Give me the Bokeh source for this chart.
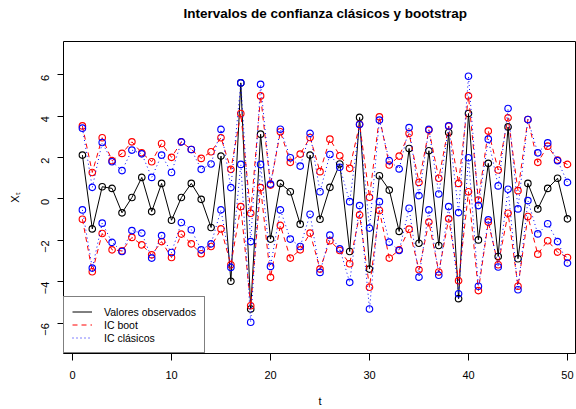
import math
from bokeh.plotting import figure
from bokeh.models import Legend, LegendItem, FixedTicker, Title
from bokeh.embed import file_html
from bokeh.resources import INLINE

t = list(range(1, 51))

obs = [2.12, -1.45, 0.59, 0.51, -0.67, 0.07, 1.04, -0.61, 0.75, -1.03,
       0.07, 0.75, -0.02, -1.38, 2.07, -3.98, 5.61, -5.32, 3.13, -1.94,
       0.75, 0.35, -1.22, 2.12, -0.98, 0.56, 1.69, -2.54, 3.94, -3.39,
       1.12, 0.43, -1.57, 2.44, -2.14, 2.33, -2.25, 3.21, -4.82, 4.13,
       -1.98, 1.72, -2.78, 3.48, -2.89, 0.75, -0.48, 0.51, 1.00, -0.96]

boot_up = [3.53, 1.28, 2.96, 1.85, 2.20, 2.76, 2.23, 1.80, 2.68, 2.01,
           2.76, 2.39, 1.96, 2.28, 2.96, 1.43, 4.13, -0.69, 4.98, 0.67,
           3.25, 1.77, 2.17, 2.97, 1.32, 2.89, 2.09, 1.48, 3.61, 0.08,
           3.97, 1.64, 2.07, 3.17, 0.80, 3.33, 1.00, 3.52, 0.75, 4.98,
           -0.05, 3.28, 1.40, 3.92, 0.40, 3.84, 1.77, 2.55, 1.88, 1.67]

boot_lo = [-0.98, -3.52, -1.67, -2.46, -2.51, -1.86, -2.22, -2.70, -2.06, -2.83,
           -1.70, -2.17, -2.65, -2.30, -1.45, -3.18, -0.37, -5.16, 0.55, -3.79,
           -1.28, -2.86, -2.46, -1.65, -3.39, -2.02, -2.49, -3.13, -0.77, -4.27,
           -0.56, -2.86, -2.46, -1.46, -3.42, -1.12, -3.53, -0.96, -3.95, 0.35,
           -4.43, -1.12, -3.18, -0.69, -4.22, -0.85, -2.67, -2.02, -2.57, -2.83]

clas_up = [3.42, 0.56, 2.73, 1.80, 1.37, 2.36, 2.18, 1.04, 2.12, 1.28,
           2.76, 2.39, 1.43, 1.69, 3.36, 0.55, 5.61, -2.06, 5.54, 0.72,
           3.37, 1.99, 1.59, 3.17, 0.35, 2.15, 1.53, -0.13, 3.60, -1.41,
           3.81, 1.85, 1.45, 3.45, 0.16, 3.36, 0.24, 3.53, -0.66, 5.93,
           -0.32, 2.89, 0.63, 4.37, -0.48, 3.84, 2.23, 2.71, 1.85, 0.80]

clas_lo = [-0.53, -3.34, -1.17, -2.10, -2.54, -1.53, -1.65, -2.86, -1.77, -2.59,
           -1.14, -1.49, -2.46, -2.17, -0.53, -3.31, 1.67, -5.96, 1.67, -3.26,
           -0.53, -1.94, -2.30, -0.74, -3.55, -1.75, -2.41, -4.03, -0.32, -5.32,
           -0.13, -2.09, -2.49, -0.45, -3.78, -0.53, -3.69, -0.37, -4.58, 1.99,
           -4.22, -1.01, -3.29, 0.47, -4.39, -0.08, -1.69, -1.20, -2.06, -3.10]

x_ticks = [0, 10, 20, 30, 40, 50]
y_ticks = [-6, -4, -2, 0, 2, 4, 6]
title_text = "Intervalos de confianza clásicos y bootstrap"

FONT = "Liberation Sans"

p = figure(width=576, height=409, output_backend="svg", toolbar_location=None,
           x_range=(-0.91, 50.91), y_range=(-7.47, 7.61),
           min_border_left=63, min_border_right=0, min_border_top=41, min_border_bottom=55)

# spacer between frame and title (nearest to frame), then the real title
spacer = Title(text=" ", text_font_size="2px", standoff=16, text_color="white")
p.add_layout(spacer, "above")
main_title = Title(text=title_text, align="left", offset=120, vertical_align="middle",
                   standoff=0, text_font=FONT, text_font_size="13.5px",
                   text_font_style="bold", text_color="black")
p.add_layout(main_title, "above")

p.background_fill_color = "white"
p.border_fill_color = "white"
p.outline_line_color = "black"
p.outline_line_width = 1
p.xgrid.visible = False
p.ygrid.visible = False

for ax in (p.xaxis[0], p.yaxis[0]):
    ax.axis_line_color = None
    ax.major_tick_line_color = "black"
    ax.minor_tick_line_color = None
    ax.major_tick_in = 0
    ax.major_label_text_font = FONT
    ax.major_label_text_font_size = "11px"
    ax.major_label_text_color = "black"
    ax.axis_label_text_font = FONT
    ax.axis_label_text_font_size = "11px"
    ax.axis_label_text_font_style = "normal"
    ax.axis_label_text_color = "black"

p.xaxis[0].ticker = FixedTicker(ticks=x_ticks)
p.yaxis[0].ticker = FixedTicker(ticks=y_ticks)
p.xaxis[0].major_tick_out = 7
p.yaxis[0].major_tick_out = 6
p.xaxis[0].major_label_standoff = 10
p.yaxis[0].major_label_standoff = 12
p.yaxis[0].major_label_orientation = math.pi / 2
p.xaxis[0].axis_label = "t"
p.yaxis[0].axis_label = "Xₜ"
p.xaxis[0].axis_label_standoff = 13
p.yaxis[0].axis_label_standoff = 14

LW = 1.0
MW = 1.15
MS = 6.5

# Observed values
l_obs = p.line(t, obs, line_color="black", line_width=LW)
p.scatter(t, obs, marker="circle", size=MS, fill_color=None, line_color="black", line_width=MW)

# Bootstrap intervals
l_bu = p.line(t, boot_up, line_color="red", line_width=LW, line_dash="5 4")
p.scatter(t, boot_up, marker="circle", size=MS, fill_color=None, line_color="red", line_width=MW)
p.line(t, boot_lo, line_color="red", line_width=LW, line_dash="5 4")
p.scatter(t, boot_lo, marker="circle", size=MS, fill_color=None, line_color="red", line_width=MW)

# Classic intervals
l_cu = p.line(t, clas_up, line_color="blue", line_width=LW, line_dash="1 3")
p.scatter(t, clas_up, marker="circle", size=MS, fill_color=None, line_color="blue", line_width=MW)
p.line(t, clas_lo, line_color="blue", line_width=LW, line_dash="1 3")
p.scatter(t, clas_lo, marker="circle", size=MS, fill_color=None, line_color="blue", line_width=MW)

legend = Legend(items=[
    LegendItem(label="Valores observados", renderers=[l_obs]),
    LegendItem(label="IC boot", renderers=[l_bu]),
    LegendItem(label="IC clásicos", renderers=[l_cu]),
], location="bottom_left")
legend.margin = 0
legend.padding = 8
legend.spacing = 0
legend.label_height = 13
legend.glyph_height = 13
legend.glyph_width = 20
legend.label_standoff = 12
legend.label_text_font = FONT
legend.label_text_font_size = "10.5px"
legend.label_text_color = "black"
legend.border_line_color = "black"
legend.border_line_width = 1
legend.background_fill_color = "white"
legend.background_fill_alpha = 1
p.add_layout(legend)

open("out.html", "w").write(file_html(p, INLINE))
